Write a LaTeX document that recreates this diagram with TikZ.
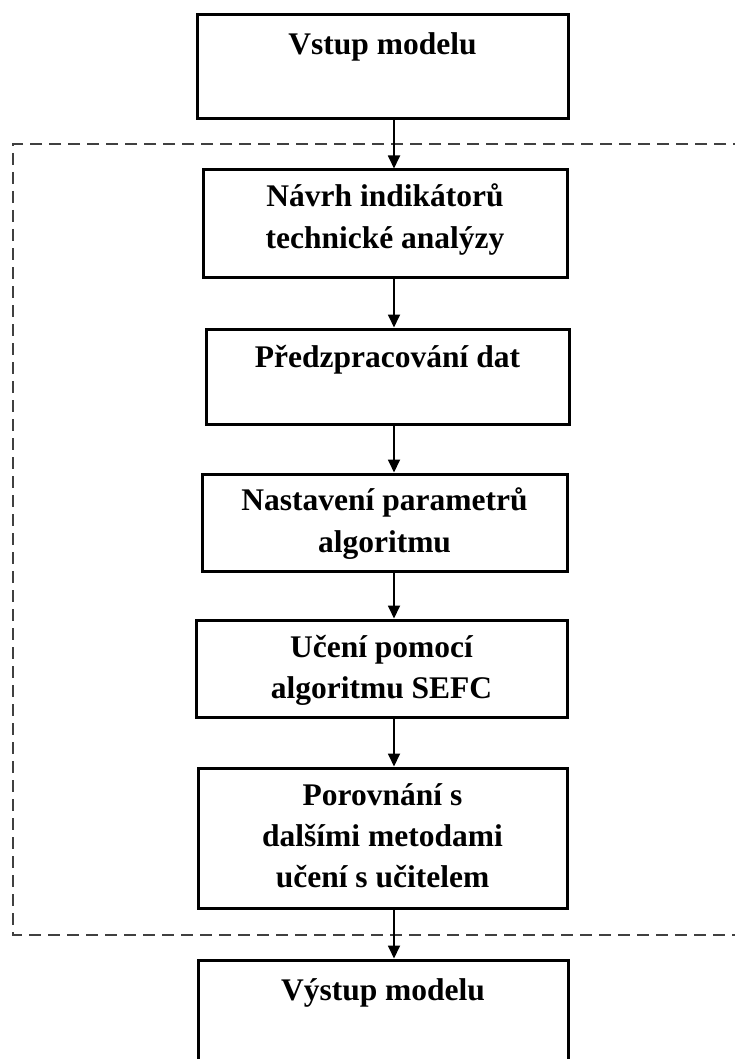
\documentclass[tikz,border=0pt]{standalone}
\usepackage{fontspec}
\setmainfont{Liberation Serif}
\usetikzlibrary{arrows.meta}
\begin{document}
\begin{tikzpicture}[x=1pt,y=-1pt,
  stage/.style={draw, line width=3pt, rectangle, inner sep=0pt},
  lbl/.style={anchor=base, inner sep=0pt, font=\fontsize{31.5}{40}\selectfont\bfseries},
  flow/.style={line width=1.8pt, -{Triangle[width=12pt,length=13pt]}},
  frame/.style={line width=2pt, dash pattern=on 12pt off 7pt, color=black!75}]
\clip (0,0) rectangle (735,1059);
\useasboundingbox (0,0) rectangle (735,1059);

% stage boxes
\node[stage, minimum width=371pt, minimum height=104pt] (b1) at (382.5,67) {};
\node[stage, minimum width=364pt, minimum height=107pt] (b2) at (385,223.5) {};
\node[stage, minimum width=363pt, minimum height=95pt]  (b3) at (387.5,376.5) {};
\node[stage, minimum width=365pt, minimum height=97pt]  (b4) at (384.5,522.5) {};
\node[stage, minimum width=371pt, minimum height=97pt]  (b5) at (381.5,668.5) {};
\node[stage, minimum width=369pt, minimum height=140pt] (b6) at (382.5,838) {};
\node[stage, minimum width=370pt, minimum height=120pt] (b7) at (383,1020) {};

% box labels
\node[lbl] (t1) at (382.5,55) {Vstup modelu};
\node[lbl] (t2a) at (385,207) {Návrh indikátorů};
\node[lbl] (t2b) at (385,248) {technické analýzy};
\node[lbl] (t3) at (387.5,367) {Předzpracování dat};
\node[lbl] (t4a) at (384.5,510) {Nastavení parametrů};
\node[lbl] (t4b) at (384.5,552) {algoritmu};
\node[lbl] (t5a) at (381.5,657) {Učení pomocí};
\node[lbl] (t5b) at (381.5,698) {algoritmu SEFC};
\node[lbl] (t6a) at (382.5,805) {Porovnání s};
\node[lbl] (t6b) at (382.5,846) {dalšími metodami};
\node[lbl] (t6c) at (382.5,887) {učení s učitelem};
\node[lbl] (t7) at (383,1000) {Výstup modelu};

% dashed frame around the processing stages
\coordinate (fr1) at (745,144);
\coordinate (fr2) at (13,144);
\coordinate (fr3) at (13,935);
\coordinate (fr4) at (745,935);
\draw[frame] (fr1) -- (fr2) -- (fr3) -- (fr4);

% vertical flow axis
\coordinate (ax) at (394,0);
\draw[flow] (b1.south -| ax) -- (b2.north -| ax);
\draw[flow] (b2.south -| ax) -- (b3.north -| ax);
\draw[flow] (b3.south -| ax) -- (b4.north -| ax);
\draw[flow] (b4.south -| ax) -- (b5.north -| ax);
\draw[flow] (b5.south -| ax) -- (b6.north -| ax);
\draw[flow] (b6.south -| ax) -- (b7.north -| ax);
\end{tikzpicture}
\end{document}
